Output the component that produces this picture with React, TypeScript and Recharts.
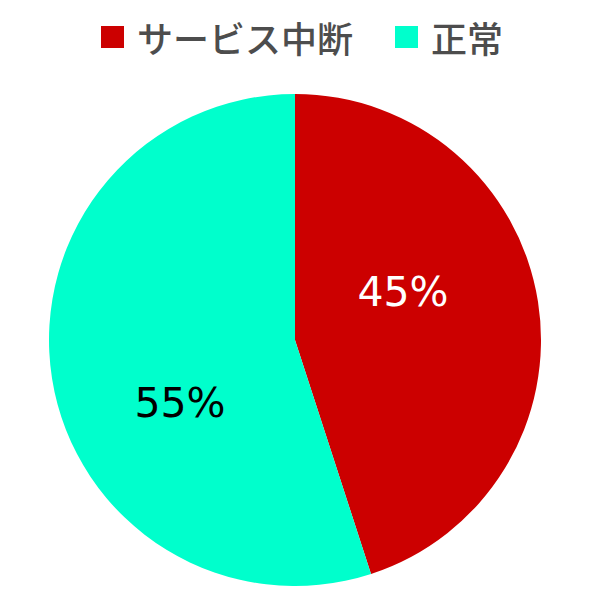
import * as React from "react";
import { PieChart, Pie, Cell } from "recharts";

const CATEGORIES = ["サービス中断", "正常"];
const VALUES = [45, 55];
const COLORS = ["#cc0000", "#00ffcc"];
const LABEL_COLORS = ["#ffffff", "#000000"];

// label anchor offsets from the pie centre (baseline, text centre)
const LABEL_OFFSETS = [
  { dx: 108, dy: -34 },
  { dx: -115, dy: 77 },
];

const data = CATEGORIES.map((name, i) => ({ name, value: VALUES[i] }));

const renderLabel = (props: any) => {
  const { cx, cy, index, percent } = props;
  const off = LABEL_OFFSETS[index];
  return (
    <text
      x={cx + off.dx}
      y={cy + off.dy}
      textAnchor="middle"
      fill={LABEL_COLORS[index]}
      style={{ fontFamily: "DejaVu Sans", fontSize: 41 }}
    >
      {`${Math.round(percent * 100)}%`}
    </text>
  );
};

function ChartLegend() {
  return (
    <div
      style={{
        position: "absolute",
        top: 14,
        left: 0,
        width: 596,
        display: "flex",
        justifyContent: "center",
        alignItems: "center",
        fontFamily: "'Noto Sans CJK JP', sans-serif",
        fontSize: 36,
        fontWeight: 500,
        color: "#4d4d4d",
        lineHeight: "46px",
        paddingLeft: 8,
        boxSizing: "border-box",
      }}
    >
      {CATEGORIES.map((name, i) => (
        <div
          key={name}
          style={{ display: "flex", alignItems: "center", marginRight: i === 0 ? 42 : 0 }}
        >
          <span
            style={{
              display: "inline-block",
              width: 23,
              height: 22,
              backgroundColor: COLORS[i],
              marginRight: 13,
            }}
          />
          <span>{name}</span>
        </div>
      ))}
    </div>
  );
}

export default function App() {
  return (
    <div style={{ position: "absolute", left: 0, top: 0, width: 596, height: 596, background: "#fff" }}>
      <PieChart width={596} height={596} margin={{ top: 0, right: 0, bottom: 0, left: 0 }}>
        <Pie
          data={data}
          dataKey="value"
          nameKey="name"
          cx={295}
          cy={340}
          outerRadius={246}
          startAngle={90}
          endAngle={-270}
          stroke="none"
          label={renderLabel}
          labelLine={false}
          isAnimationActive={false}
        >
          {data.map((d, i) => (
            <Cell key={d.name} fill={COLORS[i]} />
          ))}
        </Pie>
      </PieChart>
      <ChartLegend />
    </div>
  );
}
